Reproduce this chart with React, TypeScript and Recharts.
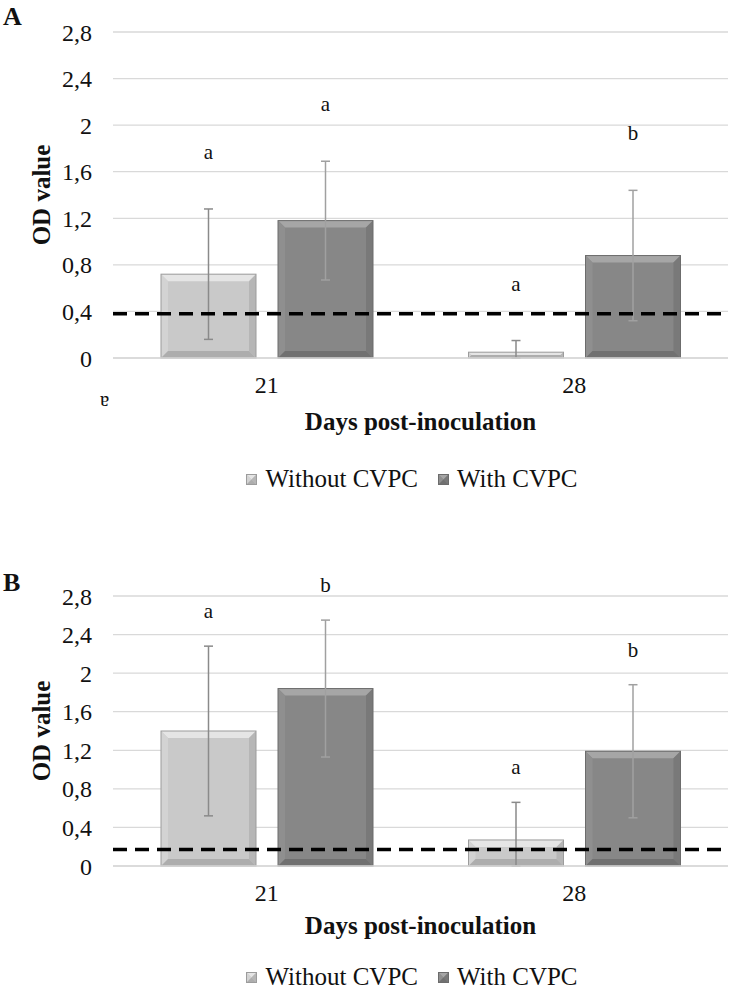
import React from "react"
import {
  BarChart,
  Bar,
  XAxis,
  YAxis,
  CartesianGrid,
  ErrorBar,
  ReferenceLine,
  LabelList,
} from "recharts"

const DAYS = ["21", "28"]
const Y_TICKS = [0, 0.4, 0.8, 1.2, 1.6, 2, 2.4, 2.8]

// panel A
const A_WITHOUT = [0.72, 0.05]
const A_WITHOUT_SD = [0.56, 0.1]
const A_WITH = [1.18, 0.88]
const A_WITH_SD = [0.51, 0.56]
const A_WITHOUT_LETTERS = ["a", "a"]
const A_WITH_LETTERS = ["a", "b"]
const A_CUTOFF = 0.38

// panel B
const B_WITHOUT = [1.4, 0.27]
const B_WITHOUT_SD = [0.88, 0.39]
const B_WITH = [1.84, 1.19]
const B_WITH_SD = [0.71, 0.69]
const B_WITHOUT_LETTERS = ["a", "a"]
const B_WITH_LETTERS = ["b", "b"]
const B_CUTOFF = 0.17

const FONT = "'Liberation Serif', 'Times New Roman', serif"

const LIGHT = { main: "#c9c9c9", top: "#e5e5e5", left: "#d3d3d3", right: "#b6b6b6", bottom: "#adadad", edge: "#9c9c9c" }
const DARK = { main: "#878787", top: "#a6a6a6", left: "#8f8f8f", right: "#797979", bottom: "#707070", edge: "#6c6c6c" }

type Tone = typeof LIGHT

function buildRows(without: number[], withoutSd: number[], withC: number[], withSd: number[], lw: string[], lc: string[]) {
  return DAYS.map((day, i) => ({
    day,
    without: without[i],
    withC: withC[i],
    // lower arm stops at the axis
    withoutErr: [Math.min(withoutSd[i], without[i]), withoutSd[i]],
    withErr: [Math.min(withSd[i], withC[i]), withSd[i]],
    withoutLetter: lw[i],
    withLetter: lc[i],
  }))
}

function BevelBar(props: any) {
  const { x, y, width: w, height: h, tone } = props as { x: number; y: number; width: number; height: number; tone: Tone }
  if (!h || h <= 0) return null
  const d = Math.min(7, h / 2, w / 2)
  const pts = (a: number[][]) => a.map(p => p.join(",")).join(" ")
  return (
    <g>
      <rect x={x} y={y} width={w} height={h} fill={tone.main} />
      <polygon points={pts([[x, y], [x + w, y], [x + w - d, y + d], [x + d, y + d]])} fill={tone.top} />
      <polygon points={pts([[x, y], [x + d, y + d], [x + d, y + h - d], [x, y + h]])} fill={tone.left} />
      <polygon points={pts([[x + w, y], [x + w - d, y + d], [x + w - d, y + h - d], [x + w, y + h]])} fill={tone.right} />
      <polygon points={pts([[x, y + h], [x + d, y + h - d], [x + w - d, y + h - d], [x + w, y + h]])} fill={tone.bottom} />
      <rect x={x} y={y} width={w} height={h} fill="none" stroke={tone.edge} strokeWidth={1} />
    </g>
  )
}

function letterLabel(rows: any[], valKey: string, errKey: string, lift: number) {
  return (p: any) => {
    const row = rows[p.index]
    const vb = p.viewBox ?? p
    const ppu = vb.height / row[valKey]
    const top = vb.y - row[errKey][1] * ppu
    return (
      <text x={vb.x + vb.width / 2} y={top - lift} textAnchor="middle" fontSize={21} fontFamily={FONT} fill="#111">
        {p.value}
      </text>
    )
  }
}

function YTitle({ viewBox }: any) {
  const cx = 41
  const cy = viewBox.y + viewBox.height / 2
  return (
    <text
      x={cx}
      y={cy}
      transform={`rotate(-90 ${cx} ${cy})`}
      textAnchor="middle"
      dominantBaseline="central"
      fontSize={25}
      fontWeight="bold"
      fontFamily={FONT}
      fill="#111"
    >
      OD value
    </text>
  )
}

function Swatch({ tone }: { tone: Tone }) {
  return (
    <svg width={11} height={11} style={{ marginRight: 8 }}>
      <BevelBar x={0.5} y={0.5} width={10} height={10} tone={{ ...tone }} />
    </svg>
  )
}

function LegendRow({ top }: { top: number }) {
  return (
    <div
      style={{
        position: "absolute",
        top,
        left: 0,
        width: 824,
        display: "flex",
        justifyContent: "center",
        alignItems: "center",
        fontFamily: FONT,
        fontSize: 25,
        color: "#111",
        lineHeight: "28px",
      }}
    >
      <span style={{ display: "flex", alignItems: "center", marginRight: 20 }}>
        <Swatch tone={LIGHT} />
        Without CVPC
      </span>
      <span style={{ display: "flex", alignItems: "center" }}>
        <Swatch tone={DARK} />
        With CVPC
      </span>
    </div>
  )
}

function Panel({ rows, cutoff, lift, plotH, axisH, titleOffset }: { rows: any[]; cutoff: number; lift: number; plotH: number; axisH: number; titleOffset: number }) {
  return (
    <BarChart
      width={742}
      height={32 + plotH + axisH}
      data={rows}
      margin={{ top: 32, right: 14, left: 0, bottom: 0 }}
      barSize={95}
      barGap={22}
    >
      <CartesianGrid vertical={false} stroke="#d9d9d9" strokeWidth={1.3} />
      <XAxis
        dataKey="day"
        height={axisH}
        axisLine={{ stroke: "#d9d9d9", strokeWidth: 1.3 }}
        tickLine={false}
        tickSize={0}
        tickMargin={18}
        tick={{ fontSize: 24, fontFamily: FONT, fill: "#111" }}
        label={{
          value: "Days post-inoculation",
          position: "insideBottom",
          offset: titleOffset,
          style: { fontSize: 25, fontWeight: "bold", fontFamily: FONT, fill: "#111" },
        }}
      />
      <YAxis
        width={113}
        domain={[0, 2.8]}
        ticks={Y_TICKS}
        interval={0}
        axisLine={false}
        tickLine={false}
        tickSize={0}
        tickMargin={21}
        tickFormatter={(v: number) => String(v).replace(".", ",")}
        tick={{ fontSize: 24, fontFamily: FONT, fill: "#111" }}
        label={<YTitle />}
      />
      <Bar dataKey="without" shape={(p: any) => <BevelBar {...p} tone={LIGHT} />} isAnimationActive={false}>
        <ErrorBar dataKey="withoutErr" width={4.5} stroke="#8a8a8a" strokeWidth={1.5} isAnimationActive={false} />
        <LabelList dataKey="withoutLetter" content={letterLabel(rows, "without", "withoutErr", lift)} />
      </Bar>
      <Bar dataKey="withC" shape={(p: any) => <BevelBar {...p} tone={DARK} />} isAnimationActive={false}>
        <ErrorBar dataKey="withErr" width={4.5} stroke="#a0a0a0" strokeWidth={1.5} isAnimationActive={false} />
        <LabelList dataKey="withLetter" content={letterLabel(rows, "withC", "withErr", lift)} />
      </Bar>
      <ReferenceLine y={cutoff} stroke="#000" strokeWidth={3.5} strokeDasharray="14 8" />
    </BarChart>
  )
}

export default function App() {
  const rowsA = buildRows(A_WITHOUT, A_WITHOUT_SD, A_WITH, A_WITH_SD, A_WITHOUT_LETTERS, A_WITH_LETTERS)
  const rowsB = buildRows(B_WITHOUT, B_WITHOUT_SD, B_WITH, B_WITH_SD, B_WITHOUT_LETTERS, B_WITH_LETTERS)
  const panelLetter: React.CSSProperties = {
    position: "absolute",
    left: 3,
    fontFamily: FONT,
    fontWeight: "bold",
    fontSize: 26,
    lineHeight: "26px",
    color: "#111",
  }
  return (
    <div style={{ position: "absolute", left: 0, top: 0, width: 742, height: 994, background: "#fff", overflow: "hidden" }}>
      <div style={{ ...panelLetter, top: 4 }}>A</div>
      <div style={{ position: "absolute", left: 0, top: 0 }}>
        <Panel rows={rowsA} cutoff={A_CUTOFF} lift={50} plotH={326} axisH={80} titleOffset={8} />
      </div>
      <div
        style={{
          position: "absolute",
          left: 100,
          top: 392,
          fontFamily: FONT,
          fontSize: 21,
          transform: "rotate(180deg)",
          color: "#111",
          lineHeight: "21px",
        }}
      >
        a
      </div>
      <LegendRow top={465} />

      <div style={{ ...panelLetter, top: 570 }}>B</div>
      <div style={{ position: "absolute", left: 0, top: 564 }}>
        <Panel rows={rowsB} cutoff={B_CUTOFF} lift={28} plotH={270} axisH={76} titleOffset={8} />
      </div>
      <LegendRow top={963} />
    </div>
  )
}
